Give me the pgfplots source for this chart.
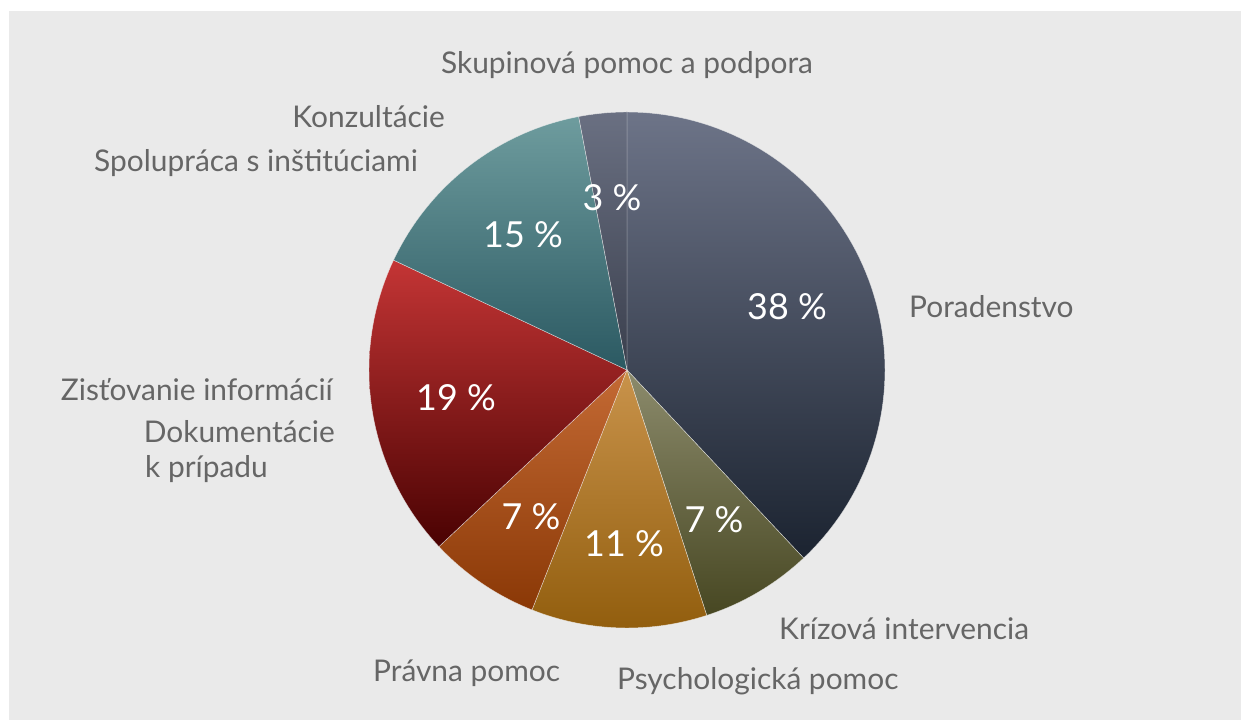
\documentclass[border=0pt]{standalone}
\usepackage{pgfplots}
\pgfplotsset{compat=1.18}
\usepackage{fontspec}
\setmainfont{Lato}
\definecolor{bg}{HTML}{EAEAEA}
\definecolor{lbl}{HTML}{666666}
\definecolor{poT}{HTML}{6D7488}\definecolor{poB}{HTML}{1B2330}
\definecolor{krT}{HTML}{8C8B6C}\definecolor{krB}{HTML}{474722}
\definecolor{psT}{HTML}{C9934B}\definecolor{psB}{HTML}{925E0E}
\definecolor{prT}{HTML}{C46A34}\definecolor{prB}{HTML}{8A3806}
\definecolor{ziT}{HTML}{C43535}\definecolor{ziB}{HTML}{4A0202}
\definecolor{koT}{HTML}{6E9C9E}\definecolor{koB}{HTML}{2B5962}
\definecolor{skT}{HTML}{6A7082}\definecolor{skB}{HTML}{3A3F4D}
% slice shares (per cent), clockwise from 12 o'clock
\def\vA{38}\def\vB{7}\def\vC{11}\def\vD{7}\def\vE{19}\def\vF{15}\def\vG{3}
\pgfmathsetmacro\aA{90}
\pgfmathsetmacro\aB{\aA-3.6*\vA}
\pgfmathsetmacro\aC{\aB-3.6*\vB}
\pgfmathsetmacro\aD{\aC-3.6*\vC}
\pgfmathsetmacro\aE{\aD-3.6*\vD}
\pgfmathsetmacro\aF{\aE-3.6*\vE}
\pgfmathsetmacro\aG{\aF-3.6*\vF}
\pgfmathsetmacro\aH{\aG-3.6*\vG}
\def\cx{627}\def\cy{350}\def\R{258}
\begin{document}
\begin{tikzpicture}[
  lab/.style={font=\fontsize{30}{36}\selectfont,text=lbl,inner sep=0pt},
  pct/.style={font=\fontsize{36}{40}\selectfont,text=white,inner sep=0pt}]
\begin{axis}[x=1bp,y=1bp,xmin=0,xmax=1241,ymin=0,ymax=720,hide axis,clip=false,
  slice/.style={draw=white!45!bg,draw opacity=0.7,line width=0.45bp,samples=80,variable=\t}]
\addplot[fill=white,draw=none] coordinates {(0,0)(1241,0)(1241,720)(0,720)} -- cycle;
\addplot[fill=bg,draw=none] coordinates {(9,0)(1241,0)(1241,709)(9,709)} -- cycle;
% slices
\addplot[slice,shade,top color=poT,bottom color=poB,domain=\aB:\aA] ({\cx+\R*cos(\t)},{\cy+\R*sin(\t)}) -- (\cx,\cy) -- cycle;
\addplot[slice,shade,top color=krT,bottom color=krB,domain=\aC:\aB] ({\cx+\R*cos(\t)},{\cy+\R*sin(\t)}) -- (\cx,\cy) -- cycle;
\addplot[slice,shade,top color=psT,bottom color=psB,domain=\aD:\aC] ({\cx+\R*cos(\t)},{\cy+\R*sin(\t)}) -- (\cx,\cy) -- cycle;
\addplot[slice,shade,top color=prT,bottom color=prB,domain=\aE:\aD] ({\cx+\R*cos(\t)},{\cy+\R*sin(\t)}) -- (\cx,\cy) -- cycle;
\addplot[slice,shade,top color=ziT,bottom color=ziB,domain=\aF:\aE] ({\cx+\R*cos(\t)},{\cy+\R*sin(\t)}) -- (\cx,\cy) -- cycle;
\addplot[slice,shade,top color=koT,bottom color=koB,domain=\aG:\aF] ({\cx+\R*cos(\t)},{\cy+\R*sin(\t)}) -- (\cx,\cy) -- cycle;
\addplot[slice,shade,top color=skT,bottom color=skB,domain=\aH:\aG] ({\cx+\R*cos(\t)},{\cy+\R*sin(\t)}) -- (\cx,\cy) -- cycle;
% percentage labels
\node[pct] at (787,413) {38 \%};
\node[pct] at (714,200) {7 \%};
\node[pct] at (624,176) {11 \%};
\node[pct] at (531,203) {7 \%};
\node[pct] at (456,322) {19 \%};
\node[pct] at (523,485) {15 \%};
\node[pct] at (612,522) {3 \%};
% category labels
\node[lab,anchor=base] at (627,646) {Skupinová pomoc a podpora};
\node[lab,anchor=base east] at (445,592) {Konzultácie};
\node[lab,anchor=base east] at (418,548) {Spolupráca s inštitúciami};
\node[lab,anchor=base west] at (909,402) {Poradenstvo};
\node[lab,anchor=base east] at (333,319) {Zisťovanie informácií};
\node[lab,anchor=base east] at (335,277) {Dokumentácie};
\node[lab,anchor=base west] at (145,242) {k prípadu};
\node[lab,anchor=base west] at (779,80) {Krízová intervencia};
\node[lab,anchor=base west] at (373,38) {Právna pomoc};
\node[lab,anchor=base west] at (617,30) {Psychologická pomoc};
\end{axis}
\end{tikzpicture}
\end{document}
